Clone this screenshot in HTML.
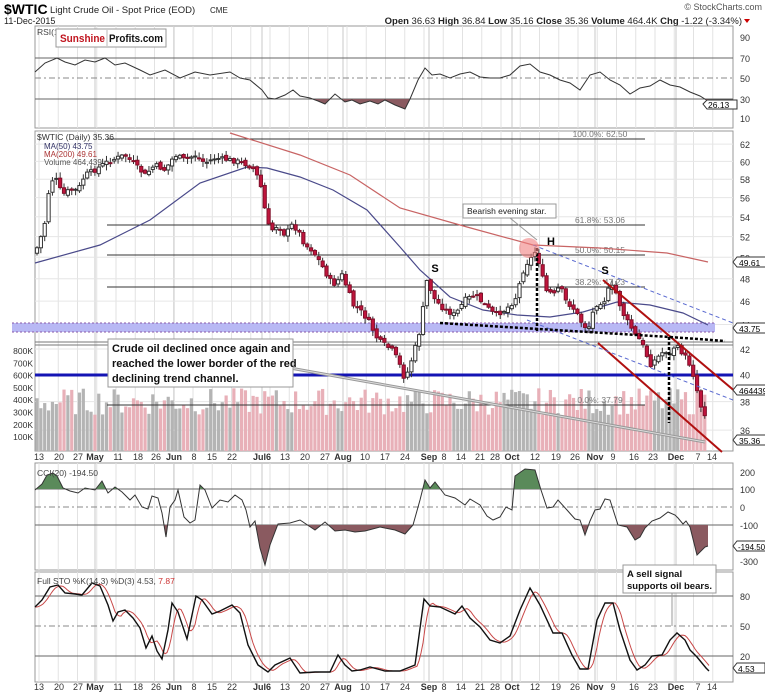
<!DOCTYPE html>
<html><head><meta charset="utf-8"><style>
body{margin:0;background:#fff;}
svg{display:block;font-family:"Liberation Sans",sans-serif;}
</style></head><body>
<svg id="c" width="765" height="693" xmlns="http://www.w3.org/2000/svg"></svg>
<script>
var s='';
function L(x1,y1,x2,y2,c,w,d){s+='<line x1="'+x1+'" y1="'+y1+'" x2="'+x2+'" y2="'+y2+'" stroke="'+c+'" stroke-width="'+(w||1)+'"'+(d?' stroke-dasharray="'+d+'"':'')+'/>';}
function T(x,y,t,sz,c,a,w){s+='<text x="'+x+'" y="'+y+'" font-size="'+sz+'" fill="'+(c||'#000')+'"'+(a?' text-anchor="'+a+'"':'')+(w?' font-weight="bold"':'')+'>'+t+'</text>';}
function R(x,y,w,h,f,st){s+='<rect x="'+x+'" y="'+y+'" width="'+w+'" height="'+h+'" fill="'+f+'"'+(st?' stroke="'+st+'"':'')+'/>';}
function P(pts,c,w,extra){s+='<polyline fill="none" stroke="'+c+'" stroke-width="'+(w||1)+'" points="'+pts.map(function(p){return p[0]+','+p[1]}).join(' ')+'" '+(extra||'')+'/>';}
function interp(pts,x){if(x<=pts[0][0])return pts[0][1];for(var i=1;i<pts.length;i++){if(x<=pts[i][0]){var a=pts[i-1],b=pts[i];return a[1]+(b[1]-a[1])*(x-a[0])/(b[0]-a[0]);}}return pts[pts.length-1][1];}
var seed=7;function rnd(){seed=(seed*9301+49297)%233280;return seed/233280;}
var X0=35,X1=733;
var weeks=[];for(var i=0;i<36;i++)weeks.push(39+i*19.25);
var monthX=[95,174,262,343,429,512,595,676];
function grid(y0,y1){weeks.forEach(function(x){L(x,y0,x,y1,'#e2e2e2',1);});monthX.forEach(function(x){L(x,y0,x,y1,'#c8c8c8',1);});}
function panel(y0,y1){R(X0,y0,X1-X0,y1-y0,'#fff','#999');grid(y0,y1);}
T(4,14,'$WTIC',14,'#000',null,true);
T(50,13,'Light Crude Oil - Spot Price (EOD)',9.5,'#222');T(210,13,'CME',8,'#222');
T(4,24,'11-Dec-2015',9,'#222');
T(762,10,'© StockCharts.com',9,'#555','end');
s+='<text x="742" y="24" font-size="9.5" text-anchor="end" fill="#222"><tspan font-weight="bold">Open</tspan> 36.63 <tspan font-weight="bold">High</tspan> 36.84 <tspan font-weight="bold">Low</tspan> 35.16 <tspan font-weight="bold">Close</tspan> 35.36 <tspan font-weight="bold">Volume</tspan> 464.4K <tspan font-weight="bold">Chg</tspan> -1.22 (-3.34%)</text>';
s+='<polygon points="744,19 750,19 747,23" fill="#c00"/>';
panel(26,128);
[[90,37],[70,58],[50,78],[30,99],[10,118]].forEach(function(v){T(740,v[1]+4,v[0],9,'#333');});
L(X0,58,X1,58,'#666',1);L(X0,99,X1,99,'#666',1);L(X0,78,X1,78,'#888',1,'6,3,2,3');
var rsi=[[35,72],[45,63],[57,58],[65,62],[75,65],[85,60],[95,62],[105,58],[115,65],[125,63],[140,70],[150,75],[165,70],[180,78],[195,72],[210,75],[230,72],[240,78],[250,80],[262,90],[268,98],[275,99],[285,95],[293,90],[300,96],[310,98],[318,101],[325,104],[335,94],[345,102],[352,100],[360,104],[370,101],[378,104],[385,100],[395,105],[405,109],[410,99],[418,80],[425,68],[432,75],[440,74],[450,78],[460,74],[470,72],[480,77],[490,78],[500,78],[510,75],[520,66],[530,64],[540,72],[550,75],[560,80],[570,83],[580,90],[590,75],[600,72],[610,80],[620,85],[630,94],[640,88],[650,86],[660,80],[670,85],[680,87],[690,92],[700,96],[708,101]];
s+='<clipPath id="rc"><rect x="35" y="99" width="700" height="30"/></clipPath>';
s+='<polygon clip-path="url(#rc)" fill="#8a5a60" points="35,99 '+rsi.map(function(p){return p[0]+','+p[1]}).join(' ')+' 708,99"/>';
P(rsi,'#333',1);
s+='<path d="M703,104 l4,-4 h30 v9 h-30z" fill="#fff" stroke="#333"/>';T(708,108,'26.13',8.5,'#000');
T(37,35,'RSI(14) 26.13',8.5,'#444');
R(56,29,110,18,'#fff','#999');
s+='<text x="60" y="42" font-size="11" fill="#c0141e" font-weight="bold" textLength="45" lengthAdjust="spacingAndGlyphs">Sunshine</text>';
s+='<line x1="107" y1="30" x2="107" y2="46" stroke="#bbb"/>';
s+='<text x="109" y="42" font-size="11" fill="#111" font-weight="bold" textLength="54" lengthAdjust="spacingAndGlyphs">Profits.com</text>';
panel(131,451);
function py(p){return 2315-526*Math.log(p);}
[62,60,58,56,54,52,50,48,46,44,42,40,38,36].forEach(function(p){var y=py(p);L(X0,y,X1,y,'#e6e6e6',1);T(740,y+4,p,9,'#333');});
['800K','700K','600K','500K','400K','300K','200K','100K'].forEach(function(t,i){T(33,354+i*12.3,t,8.5,'#333','end');});
var pk=[[35,253],[40,240],[45,222],[48,195],[52,180],[57,180],[62,195],[70,190],[78,190],[85,175],[95,170],[105,163],[112,160],[125,155],[135,165],[145,175],[155,165],[165,170],[175,155],[185,160],[195,155],[205,163],[215,158],[230,160],[240,162],[248,165],[255,170],[262,190],[265,210],[268,225],[272,230],[278,225],[285,235],[292,225],[298,230],[305,245],[312,250],[320,262],[327,275],[333,285],[338,280],[342,275],[348,290],[353,305],[360,310],[368,320],[372,328],[378,340],[385,345],[392,350],[398,360],[405,380],[410,365],[416,345],[420,330],[427,280],[435,300],[445,310],[455,315],[465,300],[475,295],[485,305],[495,315],[505,310],[515,300],[525,265],[530,260],[535,252],[540,265],[545,290],[555,295],[560,285],[565,300],[575,310],[580,320],[588,330],[595,305],[605,300],[610,285],[615,290],[620,305],[625,318],[630,325],[635,335],[640,340],[645,350],[650,365],[655,360],[660,355],[665,350],[670,355],[675,345],[680,350],[685,356],[690,365],[695,380],[700,405],[704,410],[708,428]];
var N=174,prev=interp(pk,35);var candles=[];
for(var i=0;i<N;i++){var x=37+i*3.86;var c=interp(pk,x)+(rnd()-0.5)*5;var o=prev+(rnd()-0.5)*4;var hi=Math.min(o,c)-rnd()*5-1;var lo=Math.max(o,c)+rnd()*5+1;candles.push([x,o,c,hi,lo]);prev=c;}
candles.forEach(function(k){var v=270000+rnd()*220000;var y=436-(v-100000)*0.000123;R(k[0]-1.6,y,3.2,451-y,k[2]<k[1]?'#b4b4b4':'#e8b0b8');});
[[139,'100.0%: 62.50'],[225,'61.8%: 53.06'],[255,'50.0%: 50.15'],[287,'38.2%: 47.23'],[405,'0.0%: 37.79']].forEach(function(f){L(107,f[0],645,f[0],'#333',1);T(600,f[0]-2,f[1],8.5,'#777','middle');});
R(12,323,703,9,'#b8b8f4');L(12,323,715,323,'#8a5aa8',1,'2,2');L(12,332,715,332,'#8a5aa8',1,'2,2');
L(X0,342,X1,342,'#777',1);L(X0,345,X1,345,'#777',1);
L(X0,375,X1,375,'#1414b4',3);
P([[230,133],[300,155],[350,175],[400,208],[467,227],[533,245],[600,248],[667,253],[708,262]],'#c86464',1.2);
P([[35,263],[100,245],[150,220],[200,183],[247,167],[267,168],[300,177],[333,190],[367,210],[400,247],[420,270],[450,297],[483,310],[517,315],[550,317],[583,312],[617,302],[650,305],[683,313],[708,325]],'#4a4a8a',1.2);
candles.forEach(function(k){L(k[0],k[3],k[0],k[4],'#333',1);var t=Math.min(k[1],k[2]),h=Math.max(1,Math.abs(k[2]-k[1]));if(k[2]<k[1])R(k[0]-1.6,t,3.2,h,'#fff','#333');else R(k[0]-1.6,t,3.2,h,'#c0143c','#80102a');});
L(290,368,705,442,'#999',3);L(290,368,705,442,'#ddd',1);
L(603,280,737,393,'#b01010',2);L(598,343,722,452,'#b01010',2);
L(533,245,733,323,'#5a6ad0',1,'4,3');L(527,320,733,400,'#5a6ad0',1,'4,3');
L(440,323,670,337,'#000',2.5,'3,2');L(670,337,725,341,'#000',2.5,'3,2');
L(537,248,537,332,'#000',2.5,'3,2');L(669,337,669,423,'#000',2.5,'3,2');
s+='<circle cx="529" cy="248" r="10" fill="#f08080" fill-opacity="0.6"/>';
T(435,272,'S',11,'#000','middle',true);T(551,245,'H',11,'#000','middle',true);T(605,274,'S',11,'#000','middle',true);
R(463,204,93,14,'#fff','#999');T(467,214,'Bearish evening star.',8.5,'#222');L(510,218,537,240,'#999',1);
R(108,339,185,48,'#fff','#999');T(112,352,'Crude oil declined once again and',11,'#111',null,true);T(112,367,'reached the lower border of the red',11,'#111',null,true);T(112,382,'declining trend channel.',11,'#111',null,true);
function tag(y,t){s+='<path d="M733,'+y+' l4,-5 h33 v10 h-33z" fill="#fff" stroke="#333"/>';T(739,y+4,t,8.5,'#000');}
tag(262,'49.61');tag(328,'43.75');tag(390,'464439');tag(440,'35.36');
T(37,140,'$WTIC (Daily) 35.36',8.5,'#333');T(44,149,'MA(50) 43.75',8,'#336');T(44,157,'MA(200) 49.61',8,'#a33');T(44,165,'Volume 464,439',8,'#555');
var dl=[[39,'13'],[59,'20'],[78,'27'],[95,'May',1],[118,'11'],[138,'18'],[156,'26'],[174,'Jun',1],[194,'8'],[212,'15'],[232,'22'],[262,'Jul6',1],[285,'13'],[305,'20'],[325,'27'],[343,'Aug',1],[365,'10'],[385,'17'],[405,'24'],[429,'Sep',1],[444,'8'],[461,'14'],[480,'21'],[495,'28'],[512,'Oct',1],[535,'12'],[556,'19'],[575,'26'],[595,'Nov',1],[613,'9'],[634,'16'],[653,'23'],[676,'Dec',1],[698,'7'],[712,'14']];
function dates(y){dl.forEach(function(d){T(d[0],y,d[1],9,'#333','middle',d[2]);});}
dates(460);
panel(463,570);
[[200,472],[100,489],[0,507],[-100,525],[-300,561]].forEach(function(v){T(740,v[1]+4,v[0],9,'#333');});
L(X0,489,X1,489,'#666',1);L(X0,525,X1,525,'#666',1);L(X0,507,X1,507,'#888',1,'6,3,2,3');
var cci=[[35,490],[42,484],[47,475],[53,473],[57,476],[63,488],[70,491],[78,493],[85,488],[95,490],[102,481],[108,493],[115,487],[122,492],[130,500],[135,495],[142,507],[148,509],[152,496],[158,498],[162,513],[166,537],[170,507],[175,500],[178,490],[184,517],[190,523],[195,520],[200,485],[205,490],[212,508],[220,500],[228,502],[235,495],[242,500],[246,510],[250,527],[255,521],[260,548],[265,565],[270,545],[278,524],[290,523],[300,520],[315,530],[325,522],[335,531],[345,530],[355,532],[365,531],[380,527],[395,530],[405,534],[413,525],[420,500],[425,480],[430,488],[435,482],[445,495],[455,498],[465,505],[470,499],[480,505],[487,516],[493,520],[500,517],[506,507],[512,510],[515,476],[525,469],[535,470],[541,490],[547,508],[553,507],[558,500],[567,510],[575,519],[580,520],[585,535],[590,521],[595,510],[600,509],[605,499],[610,500],[618,525],[627,527],[635,540],[640,537],[645,528],[652,521],[660,518],[668,512],[675,515],[678,518],[683,524],[686,521],[690,527],[697,555],[705,547],[708,546]];
var cp=cci.map(function(p){return p[0]+','+p[1]}).join(' ');
s+='<clipPath id="ca"><rect x="35" y="460" width="700" height="29"/></clipPath><clipPath id="cb"><rect x="35" y="525" width="700" height="45"/></clipPath>';
s+='<polygon clip-path="url(#ca)" fill="#5a8a5a" points="35,489 '+cp+' 708,489"/>';
s+='<polygon clip-path="url(#cb)" fill="#8a5a60" points="35,525 '+cp+' 708,525"/>';
P(cci,'#333',1);
s+='<path d="M733,546 l4,-5 h33 v10 h-33z" fill="#fff" stroke="#333"/>';T(738,550,'-194.50',8,'#000');
T(37,476,'CCI(20) -194.50',8.5,'#444');
panel(572,682);
[[80,596],[50,626],[20,656]].forEach(function(v){T(740,v[1]+4,v[0],9,'#333');});
L(X0,596,X1,596,'#666',1);L(X0,656,X1,656,'#666',1);L(X0,626,X1,626,'#888',1,'6,3,2,3');
var k=[[35,607],[42,600],[50,587],[58,585],[65,593],[75,594],[82,595],[92,583],[100,586],[108,605],[113,621],[118,612],[125,610],[133,618],[140,628],[146,648],[152,636],[157,651],[162,659],[168,630],[172,603],[178,612],[187,639],[196,596],[202,600],[212,614],[220,611],[232,605],[240,613],[248,645],[258,665],[268,672],[275,665],[290,658],[300,673],[315,672],[330,672],[338,655],[345,665],[352,671],[360,670],[370,667],[385,671],[400,671],[415,665],[424,599],[430,606],[440,607],[455,614],[462,606],[470,618],[480,627],[490,640],[500,643],[510,636],[520,610],[530,588],[540,605],[553,633],[562,633],[572,655],[580,669],[588,669],[597,620],[605,603],[613,603],[620,630],[630,660],[637,670],[645,665],[652,656],[662,655],[670,640],[677,633],[685,640],[690,650],[697,657],[706,668],[709,671]];
var d=[];for(var x=35;x<=709;x+=2){var a=interp(k,x-2),b=interp(k,x-5),c2=interp(k,x-8);d.push([x,((a+b+c2)/3).toFixed(1)]);}
P(d,'#c84848',1);P(k,'#111',1.4);
s+='<path d="M733,668 l4,-5 h28 v10 h-28z" fill="#fff" stroke="#333"/>';T(738,672,'4.53',8.5,'#000');
s+='<text x="37" y="584" font-size="8.5" fill="#444">Full STO %K(14,3) %D(3) 4.53, <tspan fill="#c33">7.87</tspan></text>';
R(623,565,93,28,'#fff','#999');T(627,577,'A sell signal',9.5,'#111',null,true);T(627,589,'supports oil bears.',9.5,'#111',null,true);L(672,593,672,626,'#999',1);
dates(690);
document.getElementById('c').innerHTML=s;
</script>
</body></html>
